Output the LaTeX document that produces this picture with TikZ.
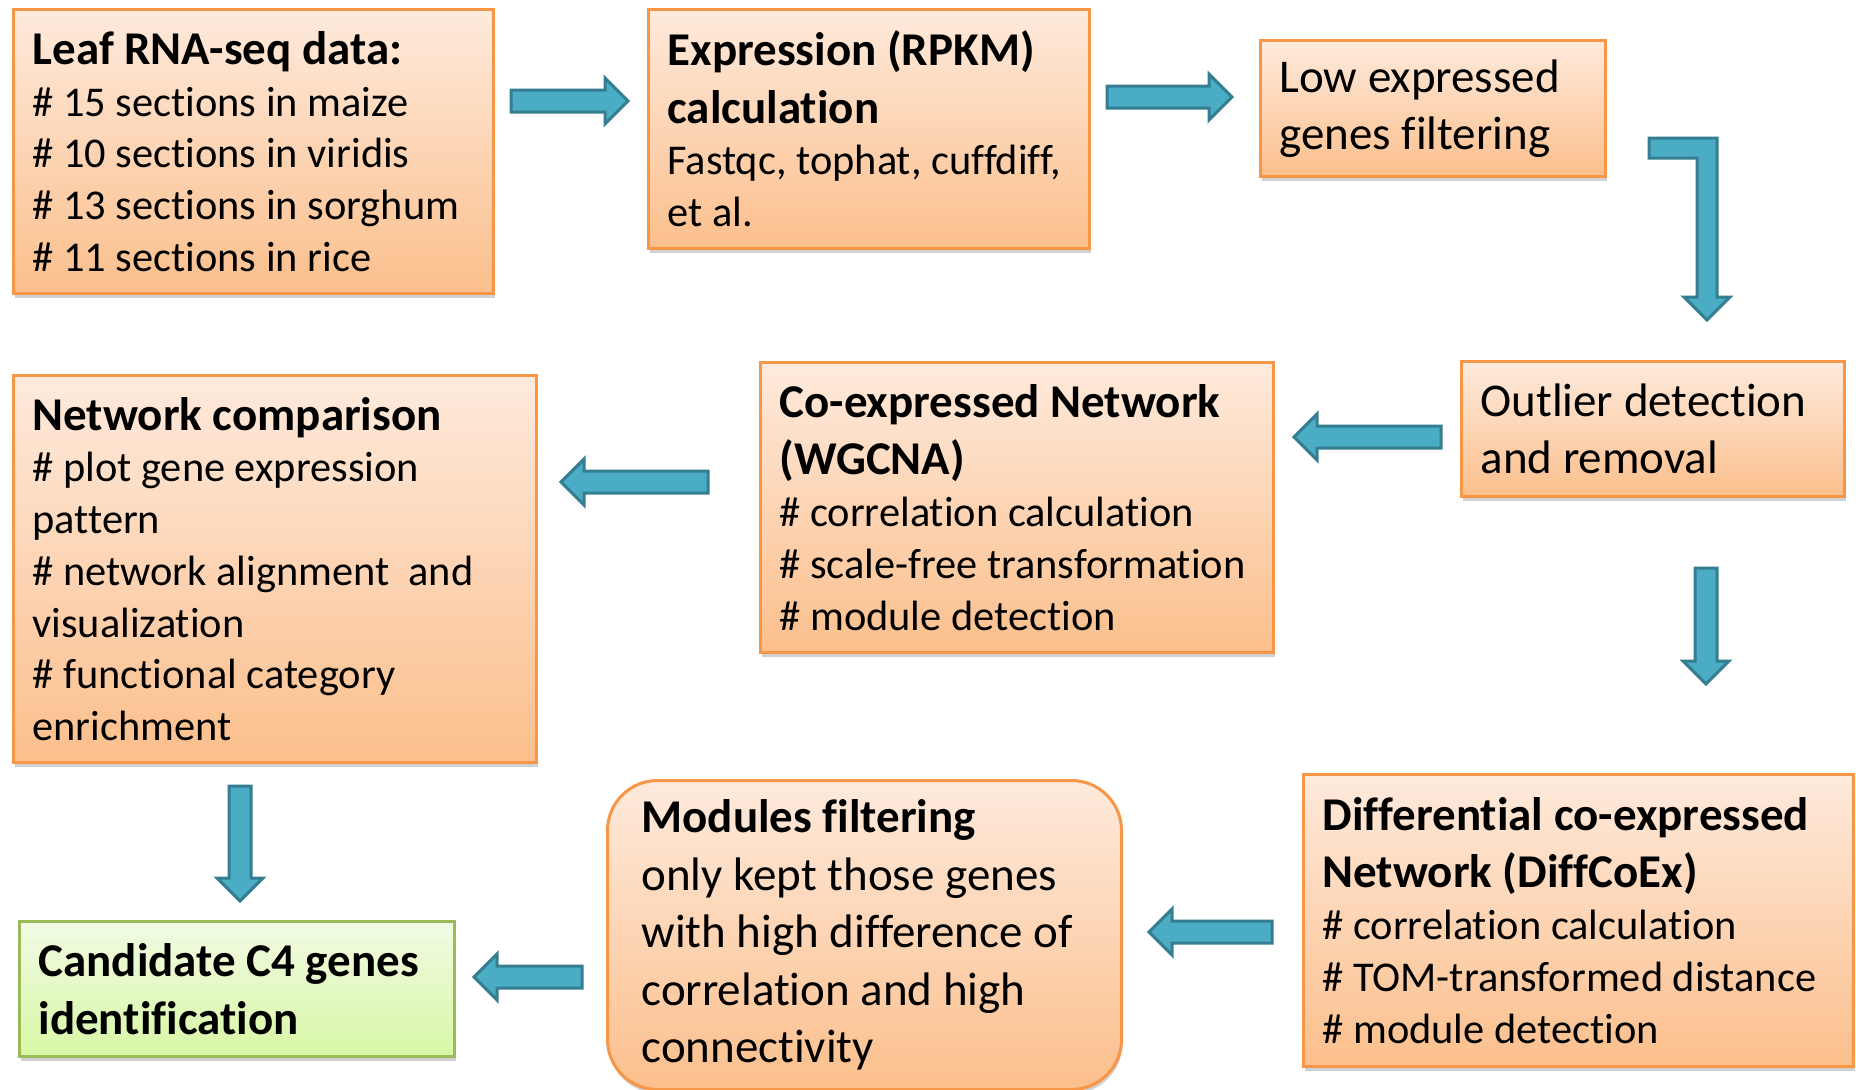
\documentclass[tikz,border=0pt]{standalone}
\usepackage{fontspec}
\setmainfont{Carlito}[Ligatures=NoCommon]
\usetikzlibrary{calc,shadows}

\definecolor{boxline}{HTML}{F79646}
\definecolor{boxtop}{HTML}{FEEADC}
\definecolor{boxbot}{HTML}{FBBF8C}
\definecolor{candline}{HTML}{9BBB59}
\definecolor{candtop}{HTML}{F1FBE3}
\definecolor{candbot}{HTML}{D8F7A6}
\definecolor{arrfill}{HTML}{4BACC6}
\definecolor{arrline}{HTML}{357D91}

% font's own word space, not the one align= sets
\newcommand{\bigtxt}{\fontsize{47}{57.4}\selectfont\spaceskip=0pt\xspaceskip=0pt\relax}
\newcommand{\smalltxt}{\fontsize{42.4}{51.7}\selectfont\spaceskip=0pt\xspaceskip=0pt\relax}

\def\shaftw{11pt} % half shaft
\def\headw{23pt}  % half head
\def\headlen{23pt}

% block arrow from #1 to #2
\newcommand{\blockarrow}[2]{%
  \coordinate (hb) at ($(#2)!\headlen!(#1)$);
  \filldraw[flow] ($(#1)!\shaftw!90:(#2)$) -- ($(hb)!\shaftw!90:(#2)$)
    -- ($(hb)!\headw!90:(#2)$) -- (#2) -- ($(hb)!\headw!-90:(#2)$)
    -- ($(hb)!\shaftw!-90:(#2)$) -- ($(#1)!\shaftw!-90:(#2)$) -- cycle;
}

\begin{document}
\begin{tikzpicture}[x=1pt, y=-1pt,
  procbox/.style={draw=boxline, line width=3pt, top color=boxtop, bottom color=boxbot,
    drop shadow={shadow xshift=1pt, shadow yshift=-4pt, fill=black!60, opacity=0.3},
    anchor=north west, align=left, inner xsep=19pt, inner ysep=0pt},
  endbox/.style={procbox, draw=candline, top color=candtop, bottom color=candbot},
  flow/.style={draw=arrline, fill=arrfill, line width=3pt, line join=miter}]

   \useasboundingbox (0,0) rectangle (1856,1090);

   % boxes
   \node[procbox, text width=442pt, minimum height=284pt] (leaf) at (12,8)
     {{\bigtxt\bfseries Leaf RNA-seq data:\par}\smalltxt
      \# 15 sections in maize\\ \# 10 sections in viridis\\
      \# 13 sections in sorghum\\ \# 11 sections in rice\par};
   \node[procbox, text width=403pt, minimum height=239pt] (expr) at (647,8)
     {{\bigtxt\bfseries Expression (RPKM)\\ calculation\par}\smalltxt
      Fastqc, tophat, cuffdiff,\\ et al.\par};
   \node[procbox, text width=307pt, minimum height=136pt] (low) at (1259,39)
     {\bigtxt Low expressed\\ genes filtering\par};
   \node[procbox, text width=345pt, minimum height=135pt] (outlier) at (1460,360)
     {\bigtxt Outlier detection\\ and removal\par};
   \node[procbox, text width=475pt, minimum height=290pt] (coexp) at (759,361)
     {{\bigtxt\bfseries Co-expressed Network\\ (WGCNA)\par}\smalltxt
      \# correlation calculation\\ \# scale-free transformation\\ \# module detection\par};
   \node[procbox, text width=485pt, minimum height=387pt] (netcmp) at (12,374)
     {{\bigtxt\bfseries Network comparison\par}\smalltxt
      \# plot gene expression\\ pattern\\ \# network alignment\ \ and\\
      visualization\\ \# functional category\\ enrichment\par};
   \node[endbox, text width=397pt, minimum height=135pt] (cand) at (18,920)
     {\bigtxt\bfseries Candidate C4 genes\\ identification\par};
   \node[procbox, rounded corners=50pt, inner xsep=34pt, text width=446pt,
     minimum height=309pt] (modules) at (606,779)
     {{\bigtxt\bfseries Modules filtering\par}\bigtxt
      only kept those genes\\ with high difference of\\ correlation and high\\ connectivity\par};
   \node[procbox, text width=512pt, minimum height=292pt] (diff) at (1302,773)
     {{\bigtxt\bfseries Differential co-expressed\\ Network (DiffCoEx)\par}\smalltxt
      \# correlation calculation\\ \# TOM-transformed distance\\ \# module detection\par};

   % arrow ends
   \coordinate (a1s) at (511,101);  \coordinate (a1e) at (628,101);
   \coordinate (a2s) at (1107,97);  \coordinate (a2e) at (1232,97);
   \coordinate (ebeg) at (1649,148); \coordinate (eend) at (1707,320);
   \coordinate (a3s) at (1441,437); \coordinate (a3e) at (1294,437);
   \coordinate (a4s) at (708,482);  \coordinate (a4e) at (561,482);
   \coordinate (a5s) at (1706,568); \coordinate (a5e) at (1706,684);
   \coordinate (a6s) at (1272,932); \coordinate (a6e) at (1149,932);
   \coordinate (a7s) at (240,786);  \coordinate (a7e) at (240,901);
   \coordinate (a8s) at (582,977);  \coordinate (a8e) at (474,977);

   \blockarrow{a1s}{a1e}
   \blockarrow{a2s}{a2e}
   \blockarrow{a3s}{a3e}
   \blockarrow{a4s}{a4e}
   \blockarrow{a5s}{a5e}
   \blockarrow{a6s}{a6e}
   \blockarrow{a7s}{a7e}
   \blockarrow{a8s}{a8e}

   % elbow: low -> outlier
   \filldraw[flow] ($(ebeg)+(0,-10)$) -- ($(ebeg -| eend)+(10,-10)$)
     -- ($(eend)+(10,-23)$) -- ($(eend)+(23,-23)$) -- (eend)
     -- ($(eend)+(-23,-23)$) -- ($(eend)+(-10,-23)$)
     -- ($(ebeg -| eend)+(-10,10)$) -- ($(ebeg)+(0,10)$) -- cycle;

\end{tikzpicture}
\end{document}
